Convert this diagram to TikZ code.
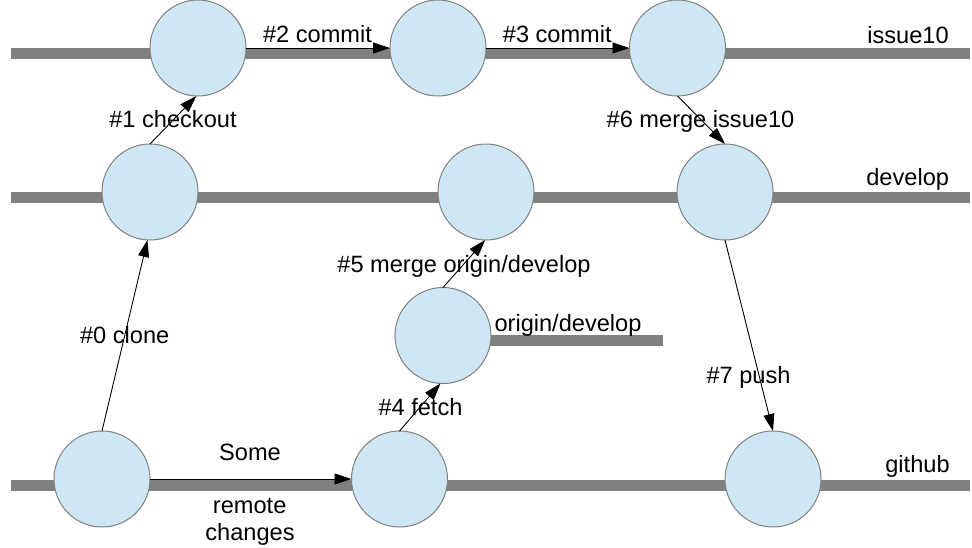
\documentclass[tikz,border=0pt]{standalone}
\usepackage{fontspec}
\setmainfont{Liberation Sans}
\usetikzlibrary{arrows.meta}
\definecolor{barc}{RGB}{128,128,128}
\definecolor{cfill}{RGB}{207,231,245}
\definecolor{cline}{RGB}{128,128,128}
\begin{document}
\begin{tikzpicture}[x=1pt,y=-1pt,
  commit/.style={circle, draw=cline, line width=1pt, fill=cfill, minimum size=96pt, inner sep=0pt, outer sep=0pt},
  branchbar/.style={draw=barc, line width=11pt},
  conn/.style={draw=black, line width=0.9pt, -{Triangle[length=17pt,width=11pt]}},
  lbl/.style={anchor=base, inner sep=0pt, font=\fontsize{23.6}{28}\selectfont}]
\useasboundingbox (0,0) rectangle (972,547);
% branch bars
\coordinate (iL) at (11,53.5);  \coordinate (iR) at (970,53.5);
\coordinate (dL) at (11,197.5); \coordinate (dR) at (970,197.5);
\coordinate (oL) at (443,340.5); \coordinate (oR) at (663,340.5);
\coordinate (gL) at (11,485);   \coordinate (gR) at (970,485);
\draw[branchbar] (iL) -- (iR);
\draw[branchbar] (dL) -- (dR);
\draw[branchbar] (oL) -- (oR);
\draw[branchbar] (gL) -- (gR);
% commits
\node[commit] (i1) at (198,48) {};
\node[commit] (i2) at (438,48) {};
\node[commit] (i3) at (677.5,48) {};
\node[commit] (d1) at (150,192) {};
\node[commit] (d2) at (486,192) {};
\node[commit] (d3) at (725,192) {};
\node[commit] (o)  at (443,335.5) {};
\node[commit] (b1) at (102,479) {};
\node[commit] (b2) at (399.5,479) {};
\node[commit] (g)  at (773,479) {};
% connectors
\draw[conn] (b1.north) -- (d1.-93);
\draw[conn] (d1.north) -- (i1.-92);
\draw[conn] (i1.east) -- (i2.west);
\draw[conn] (i2.east) -- (i3.west);
\draw[conn] (b2.north) -- (o.-93);
\draw[conn] (o.north) -- (d2.-91);
\draw[conn] (i3.south) -- (d3.north);
\draw[conn] (d3.south) -- (g.north);
\draw[conn] (b1.east) -- (b2.west);
% labels
\node[lbl] (l2) at (317.5,42.7) {\#2 commit};
\node[lbl] (l3) at (557.3,42.7) {\#3 commit};
\node[lbl] (lissue) at (908,43) {issue10};
\node[lbl] (l1) at (173,127.7) {\#1 checkout};
\node[lbl] (ldev) at (907.7,185.5) {develop};
\node[lbl] (l6) at (700.5,127.7) {\#6 merge issue10};
\node[lbl] (l5) at (464,272.3) {\#5 merge origin/develop};
\node[lbl] (lorig) at (568,331.3) {origin/develop};
\node[lbl] (l0) at (124.7,343) {\#0 clone};
\node[lbl] (l4) at (420.5,415.7) {\#4 fetch};
\node[lbl] (ls1) at (250,460.3) {Some};
\node[lbl] (ls2) at (249.7,513.3) {remote};
\node[lbl] (ls3) at (250,540) {changes};
\node[lbl] (l7) at (748.5,383) {\#7 push};
\node[lbl] (lgit) at (917.5,472) {github};
\end{tikzpicture}
\end{document}
